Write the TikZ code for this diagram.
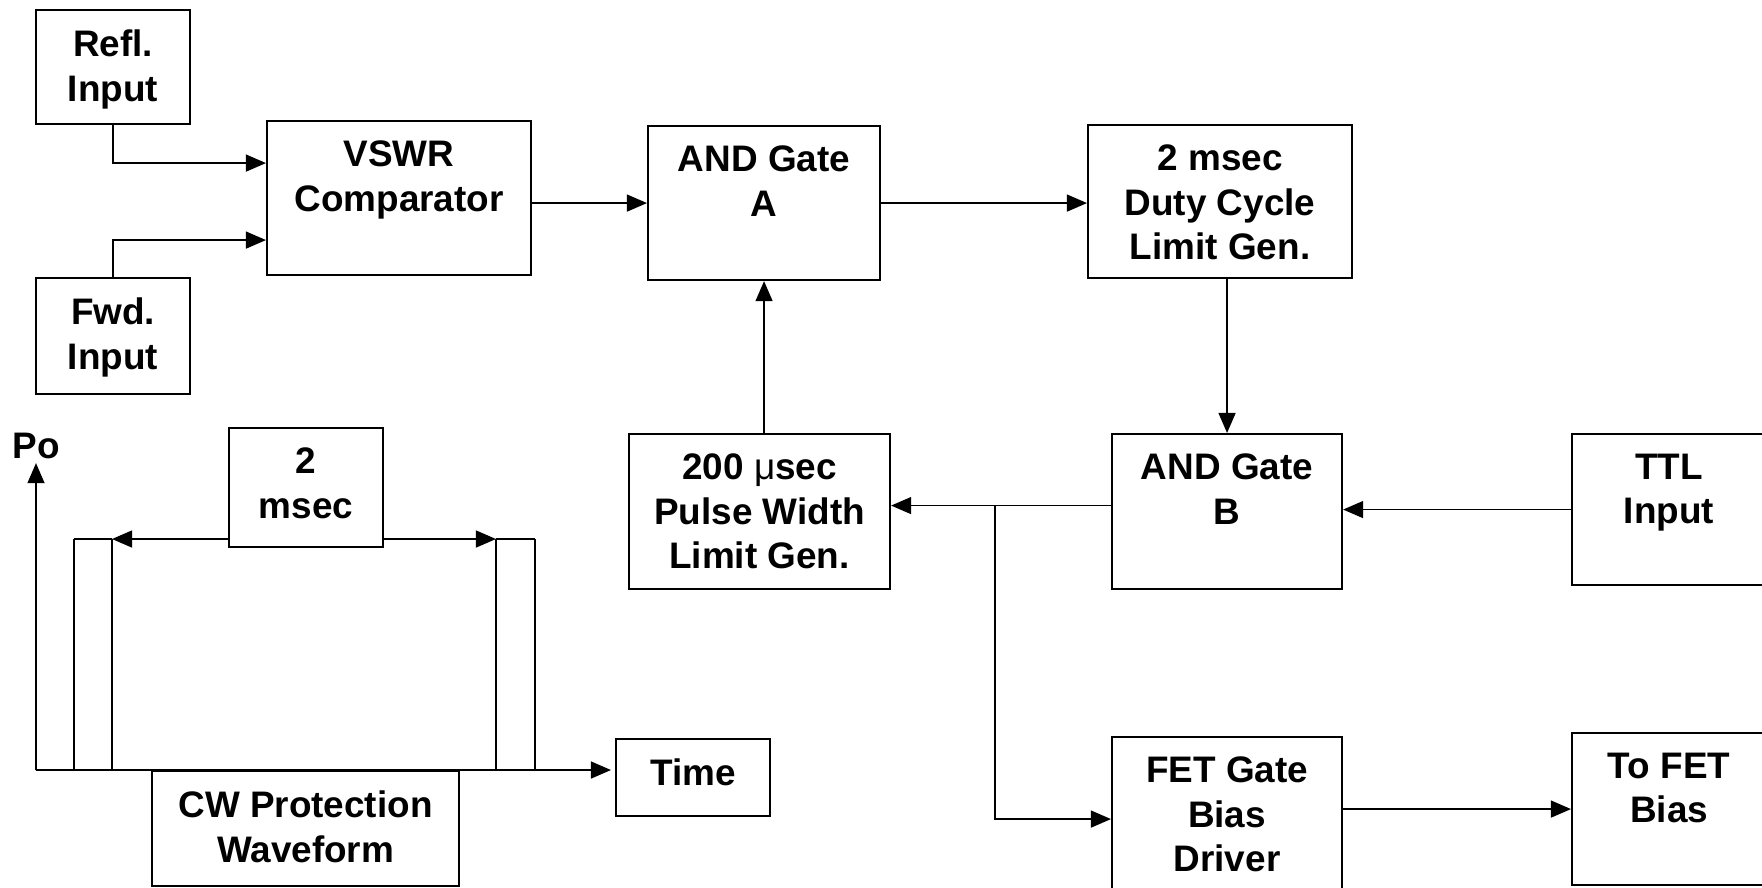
\documentclass[tikz,border=0pt]{standalone}
\usepackage{fontspec}
\setmainfont{Liberation Sans}
\usetikzlibrary{arrows.meta}

\tikzset{
  blk/.style 2 args={draw, line width=0.6pt, inner sep=0pt, anchor=north west,
    execute at begin node={\begin{minipage}[c][#2][t]{#1}\centering\vspace*{5.7pt}},
    execute at end node={\end{minipage}}},
  wire/.style={line width=0.5pt},
  arr/.style={wire, -{Triangle[length=5.7pt,width=4.8pt]}},
}

\begin{document}
\begin{tikzpicture}[x=0.1mm, y=-0.1mm, line join=miter,
    font=\bfseries\fontsize{10.5}{12.6}\selectfont]
  \useasboundingbox (0,0) rectangle (1762,887);
  % blocks
  \node[blk={15.4mm}{11.4mm}] (refl)  at (35,9)     {Refl.\\Input};
  \node[blk={15.4mm}{11.6mm}] (fwd)   at (35,277)   {Fwd.\\Input};
  \node[blk={26.4mm}{15.4mm}] (vswr)  at (266,120)  {VSWR\\Comparator};
  \node[blk={23.2mm}{15.4mm}] (anda)  at (647,125)  {AND Gate\\A};
  \node[blk={26.4mm}{15.3mm}] (duty)  at (1087,124) {2 msec\\Duty Cycle\hspace*{2.4mm}\\Limit Gen.};
  \node[blk={26.1mm}{15.5mm}] (pulse) at (628,433)  {200 {\mdseries μ}sec\\Pulse Width\\Limit Gen.};
  \node[blk={23mm}{15.5mm}]   (andb)  at (1111,433) {AND Gate\\B};
  \node[blk={19.4mm}{15.1mm}] (ttl)   at (1571,433) {TTL\\Input};
  \node[blk={23mm}{16.4mm}]   (fet)   at (1111,736) {FET Gate\\Bias\\Driver};
  \node[blk={19.4mm}{15.2mm}] (tofet) at (1571,732) {To FET\\Bias};
  % inputs to the comparator
  \draw[arr] (refl.south) |- ([yshift=3.5mm]vswr.west);
  \draw[arr] (fwd.north) |- ([yshift=-4.2mm]vswr.west);
  % loop
  \draw[arr] (vswr.east |- anda.west) -- (anda.west);
  \draw[arr] (anda.east) -- (duty.west |- anda.east);
  \draw[arr] (duty.south -| andb.north) -- (andb.north);
  \draw[arr] (pulse.north -| anda.south) -- (anda.south);
  \draw[arr] (ttl.west) -- (andb.east |- ttl.west);
  % gate B output
  \coordinate (bo) at ([yshift=0.6mm]andb.west);
  \coordinate (jn) at (bo -| 995,0);
  \draw[arr] (bo) -- (pulse.east |- bo);
  \draw[arr] (jn) |- (fet.west);
  \draw[arr] (fet.east |- tofet.west) -- (tofet.west);
  % waveform
  \coordinate (o) at (36,770);
  \node[blk={15.4mm}{7.7mm}]  (time) at (615,738) {Time};
  \node[blk={30.7mm}{11.5mm}] (cw)   at (151,770) {CW Protection\\Waveform};
  \node[blk={15.4mm}{11.9mm}] (msec) at (228,427) {2\\msec};
  \node[inner sep=1pt] (po) at (36,446) {Po};
  \draw[arr] (o) -- (po.south);
  \draw[arr] (o) -- ([xshift=-0.4mm]time.west |- o);
  \foreach \x in {74,112,496,535} \draw[wire] (\x,770) -- (\x,539);
  \draw[wire] (74,539) -- (112,539) (496,539) -- (535,539);
  \draw[arr] (msec.west |- 0,539) -- (112,539);
  \draw[arr] (msec.east |- 0,539) -- (496,539);
\end{tikzpicture}
\end{document}
